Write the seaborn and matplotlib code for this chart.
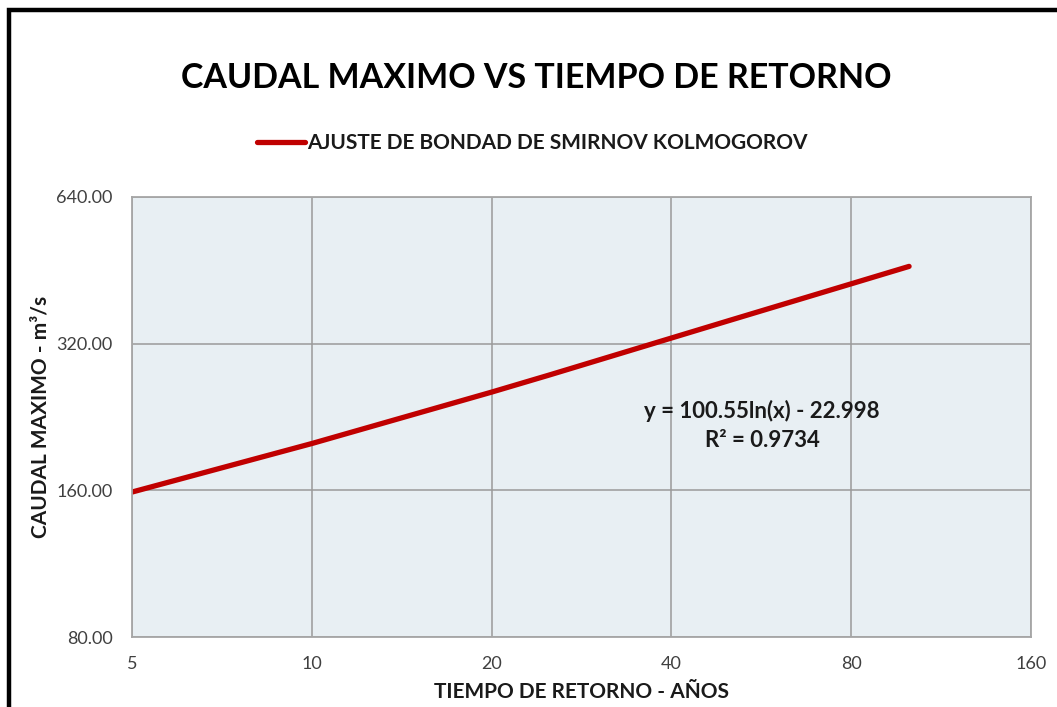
import matplotlib
matplotlib.use("Agg")
import matplotlib.pyplot as plt
import matplotlib.ticker as mticker
from matplotlib.lines import Line2D
import seaborn as sns
import pandas as pd

# -----------------------------
# Data
# -----------------------------
periodo = [5, 10, 20, 25, 50, 100]
caudal = [158.7, 199.6, 254.5, 276.0, 357.0, 461.0]

x_ticks = [5, 10, 20, 40, 80, 160]
y_ticks = [80, 160, 320, 640]

serie = "AJUSTE DE BONDAD DE SMIRNOV KOLMOGOROV"
ecuacion = "y = 100.55ln(x) - 22.998"
r2_texto = "R² = 0.9734"

df = pd.DataFrame({"T": periodo, "Q": caudal})

# -----------------------------
# Style
# -----------------------------
sns.set_style("white")
plt.rcParams["font.family"] = ["Lato", "DejaVu Sans"]

fig = plt.figure(figsize=(10.57, 7.07), dpi=100)
ax = fig.add_axes([0.1249, 0.099, 0.8505, 0.6224])
ax.set_facecolor("#e8eff3")

sns.lineplot(data=df, x="T", y="Q", ax=ax, color="#c00000",
             linewidth=3.8, label=serie, solid_capstyle="round",
             solid_joinstyle="round")

ax.set_xscale("log", base=2)
ax.set_yscale("log", base=2)
ax.set_xlim(5, 160)
ax.set_ylim(80, 640)

ax.xaxis.set_major_locator(mticker.FixedLocator(x_ticks))
ax.yaxis.set_major_locator(mticker.FixedLocator(y_ticks))
ax.xaxis.set_minor_locator(mticker.NullLocator())
ax.yaxis.set_minor_locator(mticker.NullLocator())
ax.xaxis.set_major_formatter(mticker.FuncFormatter(lambda v, p: f"{v:g}"))
ax.yaxis.set_major_formatter(mticker.FuncFormatter(lambda v, p: f"{v:.2f}"))

ax.grid(True, color="#9a9a9a", linewidth=1.1)
for s in ax.spines.values():
    s.set_color("#a6a6a6")
    s.set_linewidth(1.3)

ax.tick_params(axis="both", length=0, labelsize=13, labelcolor="#404040")
ax.tick_params(axis="x", pad=14)
ax.tick_params(axis="y", pad=14)

ax.set_xlabel("TIEMPO DE RETORNO - AÑOS", fontsize=15, fontweight="bold",
              color="#1a1a1a", labelpad=7)
ax.set_ylabel("CAUDAL MAXIMO - m³/s", fontsize=15, fontweight="bold",
              color="#1a1a1a", labelpad=4)

# Trend equation
ax.text(0.701, 0.514, ecuacion, transform=ax.transAxes, ha="center",
        va="center", fontsize=16, fontweight="bold", color="#1a1a1a")
ax.text(0.701, 0.447, r2_texto, transform=ax.transAxes, ha="center",
        va="center", fontsize=16, fontweight="bold", color="#1a1a1a")

# Legend on top
leg = ax.legend(loc="center", bbox_to_anchor=(0.445, 1.0 + (197 - 143) / 440),
                frameon=False, fontsize=15, handlelength=2.3,
                handletextpad=0.1, borderaxespad=0)
for t in leg.get_texts():
    t.set_fontweight("bold")
    t.set_color("#1a1a1a")

# Title
fig.text(536 / 1057, 1 - 78 / 707, "CAUDAL MAXIMO VS TIEMPO DE RETORNO",
         ha="center", va="center", fontsize=24.5, fontweight="bold",
         color="#000000")

# Black outer frame (left and top edges)
top = 1 - 9.5 / 707
left = 8.5 / 1057
fig.lines.append(Line2D([left, left, 1.0], [0.0, top, top],
                        transform=fig.transFigure, color="black",
                        linewidth=3.2, solid_joinstyle="miter"))

fig.savefig("out.png", dpi=100)
